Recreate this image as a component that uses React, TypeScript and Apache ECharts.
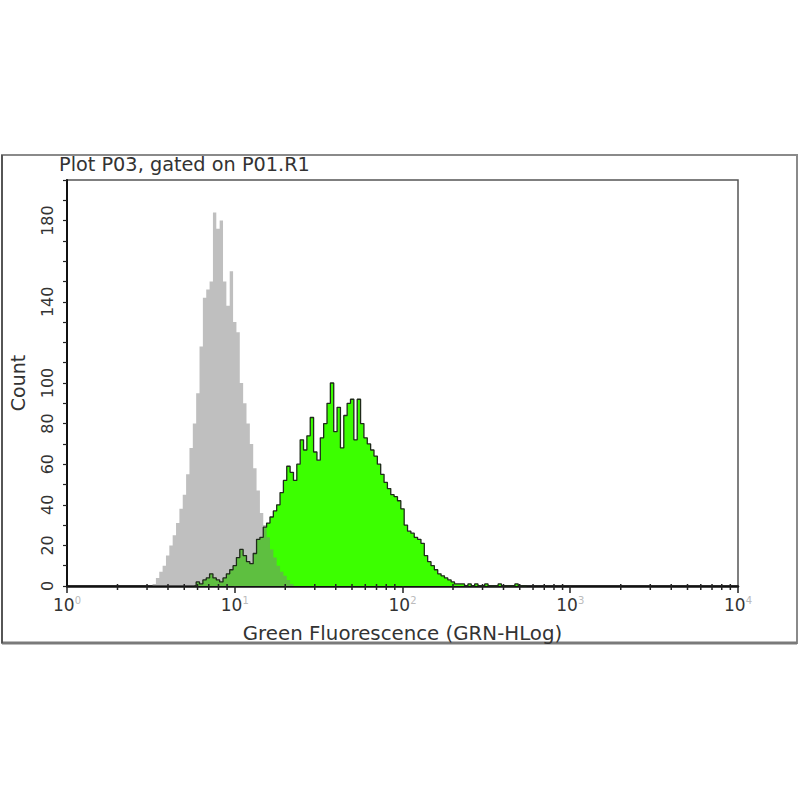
import React, { useEffect, useRef } from "react";
import * as echarts from "echarts";

// Histogram bins (log10 of fluorescence), bin width in decades
const binStep = 0.02;
const grayStartLog = 0.5;
const grayCounts = [
  0, 1, 4, 7, 10, 15, 20, 25, 31, 38, 45, 55, 68, 80, 95, 118, 142, 146, 150, 184,
  176, 180, 150, 138, 155, 130, 125, 100, 90, 80, 70, 58, 47, 36, 30, 24, 18, 14,
  10, 7, 5, 3, 1, 0,
];
const greenStartLog = 0.76;
const greenCounts = [
  0, 2, 1, 3, 4, 6, 4, 3, 2, 4, 6, 8, 10, 14, 18, 15, 12, 11, 16, 23, 24, 29, 31,
  34, 37, 40, 46, 52, 59, 56, 52, 60, 72, 67, 74, 83, 66, 62, 73, 80, 90, 100, 76,
  88, 68, 84, 90, 92, 72, 92, 80, 73, 70, 67, 64, 60, 55, 51, 48, 45, 44, 42, 38,
  30, 27, 26, 24, 23, 21, 15, 12, 10, 8, 6, 5, 4, 3, 2, 1, 1, 1, 0, 1, 0, 1, 0, 0,
  1, 0, 0, 0, 1, 0, 0, 0, 0, 1, 0, 0, 0,
];
const yLabels = [0, 20, 40, 60, 80, 100, 140, 180];
const decades = [1, 10, 100, 1000];
const minorMultipliers = [2, 3, 4, 5, 6, 7, 8, 9];

const titleText = "Plot P03, gated on P01.R1";
const xName = "Green Fluorescence (GRN-HLog)";
const yName = "Count";

const FONT = "DejaVu Sans";

function toSeries(startLog: number, counts: number[]) {
  return counts.map((c, i) => [Math.pow(10, startLog + i * binStep), c]);
}

export default function App() {
  const ref = useRef<HTMLDivElement>(null);
  useEffect(() => {
    if (!ref.current) return;
    const chart = echarts.init(ref.current, null, { renderer: "svg" });
    const grayData = toSeries(grayStartLog, grayCounts);
    const greenData = toSeries(greenStartLog, greenCounts);
    const minorTicks: number[][] = [];
    decades.forEach((d) => minorMultipliers.forEach((m) => minorTicks.push([d * m, 0])));

    chart.setOption({
      animation: false,
      backgroundColor: "#ffffff",
      title: {
        text: titleText,
        left: 59,
        top: 155,
        padding: 0,
        textStyle: { fontFamily: FONT, fontSize: 19.3, fontWeight: "normal", color: "#333" },
      },
      graphic: [
        {
          type: "rect",
          shape: { x: 2, y: 155, width: 795, height: 488 },
          style: { fill: "none", stroke: "#8a8a8a", lineWidth: 2 },
          silent: true,
        },
        {
          type: "line",
          shape: { x1: 2, y1: 643, x2: 797, y2: 643 },
          style: { stroke: "#7a7a7a", lineWidth: 3 },
          silent: true,
        },
        {
          type: "line",
          shape: { x1: 2, y1: 155, x2: 2, y2: 643 },
          style: { stroke: "#444", lineWidth: 1.5 },
          silent: true,
        },
      ],
      grid: {
        left: 60,
        right: 62,
        top: 180,
        bottom: 214,
        show: true,
        borderColor: "#555",
        borderWidth: 1.5,
        backgroundColor: "transparent",
      },
      xAxis: {
        type: "log",
        logBase: 10,
        min: 1,
        max: 10000,
        name: xName,
        nameLocation: "middle",
        nameGap: 37,
        nameTextStyle: { fontFamily: FONT, fontSize: 19.8, color: "#333" },
        axisLine: { show: true, lineStyle: { color: "#111", width: 2.5 } },
        axisTick: { show: true, length: 7, lineStyle: { color: "#222", width: 1.5 } },
        splitLine: { show: false },
        axisLabel: {
          margin: 9,
          formatter: (v: number) => `{b|10}{s|${Math.round(Math.log10(v))}}`,
          rich: {
            b: { fontFamily: FONT, fontSize: 17, color: "#333", lineHeight: 20 },
            s: { fontFamily: FONT, fontSize: 10, color: "#bbb", lineHeight: 20, verticalAlign: "top" },
          },
        },
      },
      yAxis: {
        type: "value",
        min: 0,
        max: 200,
        interval: 10,
        name: yName,
        nameLocation: "middle",
        nameRotate: 90,
        nameGap: 40,
        nameTextStyle: { fontFamily: FONT, fontSize: 19, color: "#333" },
        axisLine: { show: true, lineStyle: { color: "#111", width: 2 } },
        axisTick: { show: true, length: 4, lineStyle: { color: "#222", width: 1.2 } },
        splitLine: { show: false },
        axisLabel: {
          rotate: 90,
          margin: 12,
          fontFamily: FONT,
          fontSize: 16,
          color: "#333",
          formatter: (v: number) => (yLabels.indexOf(v) >= 0 ? String(v) : ""),
        },
      },
      series: [
        {
          type: "line",
          data: greenData,
          step: "middle",
          symbol: "none",
          lineStyle: { width: 0 },
          areaStyle: { color: "#3cff00", opacity: 1 },
          z: 2,
        },
        {
          type: "line",
          data: grayData,
          step: "middle",
          symbol: "none",
          lineStyle: { width: 0 },
          areaStyle: { color: "rgba(128,128,128,0.5)", opacity: 1 },
          z: 3,
        },
        {
          type: "line",
          data: greenData,
          step: "middle",
          symbol: "none",
          lineStyle: { width: 1.3, color: "#1f2a1a" },
          z: 4,
        },
        {
          type: "custom",
          data: minorTicks,
          encode: { x: 0, y: 1 },
          clip: false,
          z: 5,
          renderItem: (params: any, api: any) => {
            const p = api.coord([api.value(0), 0]);
            return {
              type: "line",
              shape: { x1: p[0], y1: p[1] - 2, x2: p[0], y2: p[1] + 4 },
              style: { stroke: "#222", lineWidth: 1.5 },
            };
          },
        },
      ],
    });
    return () => chart.dispose();
  }, []);
  return (
    <div
      ref={ref}
      style={{ position: "absolute", left: 0, top: 0, width: 800, height: 800 }}
    />
  );
}
